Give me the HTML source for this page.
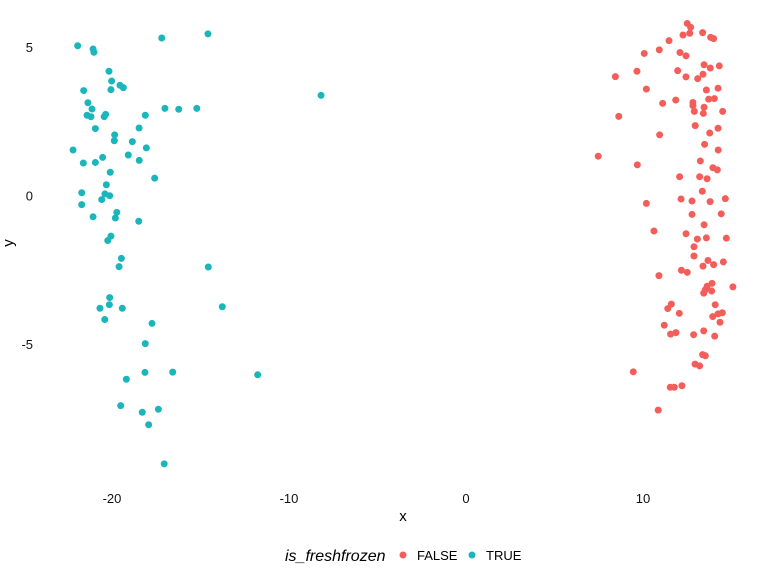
<!DOCTYPE html>
<html><head><meta charset="utf-8"><style>
body{margin:0;background:#fff;}
svg{display:block;font-family:"Liberation Sans",sans-serif;}
</style></head><body>
<svg id="chart" width="768" height="576" viewBox="0 0 768 576">
<g id="yticks"></g>
<g id="xticks"></g>
<g id="pts"></g>
<text x="403" y="521" font-size="15" text-anchor="middle">x</text>
<text transform="translate(13,243) rotate(-90)" font-size="15" text-anchor="middle">y</text>
<g>
<text x="285" y="561" font-size="16" font-style="italic">is_freshfrozen</text>
<circle cx="403" cy="555" r="3.5" fill="#F35E5A"/>
<text x="417" y="560" font-size="13">FALSE</text>
<circle cx="472" cy="555" r="3.5" fill="#1AB6BB"/>
<text x="486" y="560" font-size="13">TRUE</text>
</g>
</svg>
<script>
const xTicks=[-20,-10,0,10];
const yTicks=[5,0,-5];
const falseX=[12.50,12.69,12.64,12.26,13.37,13.82,13.99,11.47,10.07,10.92,12.09,12.43,13.45,13.80,14.31,8.44,9.66,11.96,12.43,13.09,13.39,10.19,13.58,14.24,11.85,11.11,12.82,12.82,13.71,14.03,13.45,12.90,13.41,14.50,8.63,12.95,14.24,13.77,10.94,13.48,14.25,7.47,13.24,9.68,13.95,14.20,12.07,13.20,13.62,13.35,14.65,12.15,12.77,13.79,10.19,12.77,14.42,13.45,10.62,12.43,13.07,13.58,14.71,12.88,12.88,13.67,13.39,13.99,14.54,12.17,12.50,10.90,13.90,13.62,13.52,13.88,13.43,15.08,11.60,11.40,14.08,12.05,14.48,14.24,13.94,14.35,11.20,11.56,11.86,12.86,13.43,14.05,13.37,13.52,12.94,13.20,9.45,11.54,11.77,12.20,10.86];
const falseY=[5.81,5.68,5.48,5.42,5.50,5.34,5.30,5.23,4.80,4.92,4.83,4.72,4.42,4.31,4.38,4.02,4.20,4.22,4.01,3.95,4.10,3.60,3.57,3.63,3.23,3.12,3.15,3.04,3.26,3.28,2.99,2.85,2.78,2.85,2.68,2.37,2.28,2.12,2.06,1.74,1.55,1.34,1.18,1.05,0.95,0.88,0.65,0.65,0.58,0.16,-0.09,-0.10,-0.17,-0.19,-0.25,-0.62,-0.60,-0.97,-1.18,-1.27,-1.45,-1.41,-1.42,-1.71,-2.02,-2.17,-2.36,-2.31,-2.22,-2.50,-2.57,-2.68,-2.94,-3.04,-3.16,-3.20,-3.27,-3.06,-3.64,-3.79,-3.66,-3.95,-3.93,-3.97,-4.06,-4.25,-4.35,-4.65,-4.60,-4.67,-4.54,-4.72,-5.34,-5.38,-5.66,-5.72,-5.92,-6.44,-6.44,-6.39,-7.21];
const trueX=[-21.94,-21.07,-21.02,-17.19,-14.58,-20.17,-20.02,-19.55,-19.36,-21.60,-20.06,-8.19,-21.36,-21.13,-21.41,-21.19,-20.44,-20.36,-17.01,-16.23,-15.21,-18.12,-20.94,-18.47,-19.85,-19.87,-18.85,-18.06,-22.20,-19.08,-20.53,-21.62,-20.94,-18.46,-20.10,-17.59,-20.32,-21.71,-20.40,-20.13,-20.58,-21.71,-21.07,-19.73,-19.81,-18.49,-20.06,-20.24,-19.47,-19.60,-14.56,-20.13,-20.15,-20.68,-19.42,-13.77,-20.41,-17.74,-18.12,-18.14,-16.57,-11.77,-19.19,-19.51,-18.29,-17.38,-17.93,-17.05];
const trueY=[5.06,4.95,4.84,5.32,5.46,4.20,3.87,3.73,3.65,3.55,3.58,3.39,3.14,2.93,2.72,2.67,2.67,2.75,2.95,2.92,2.95,2.72,2.27,2.29,2.06,1.86,1.83,1.62,1.55,1.38,1.30,1.11,1.13,1.20,0.80,0.60,0.38,0.11,0.07,0.01,-0.12,-0.29,-0.70,-0.55,-0.74,-0.85,-1.35,-1.50,-2.10,-2.38,-2.39,-3.42,-3.66,-3.78,-3.78,-3.73,-4.16,-4.29,-4.97,-5.94,-5.93,-6.02,-6.17,-7.06,-7.28,-7.18,-7.70,-9.02];
const NS="http://www.w3.org/2000/svg";
function xs(v){return 466+v*17.7;}
function ys(v){return 196-v*29.7;}
const yt=document.getElementById('yticks');
yTicks.forEach(t=>{const e=document.createElementNS(NS,'text');


e.setAttribute('x',33);e.setAttribute('y',ys(t)+4.5);e.setAttribute('text-anchor','end');e.setAttribute('font-size','13');e.setAttribute('fill','#111');e.textContent=t;yt.appendChild(e);});
const xt=document.getElementById('xticks');
xTicks.forEach(t=>{const e=document.createElementNS(NS,'text');


e.setAttribute('x',xs(t));e.setAttribute('y',503);e.setAttribute('text-anchor','middle');e.setAttribute('font-size','13');e.setAttribute('fill','#111');e.textContent=t;xt.appendChild(e);});
const g=document.getElementById('pts');
function draw(X,Y,col,nm){X.forEach((v,i)=>{const c=document.createElementNS(NS,'circle');


c.setAttribute('cx',xs(v));c.setAttribute('cy',ys(Y[i]));c.setAttribute('r',3.5);c.setAttribute('fill',col);g.appendChild(c);});}
draw(falseX,falseY,'#F35E5A','point-false');
draw(trueX,trueY,'#1AB6BB','point-true');
</script>
</body></html>
